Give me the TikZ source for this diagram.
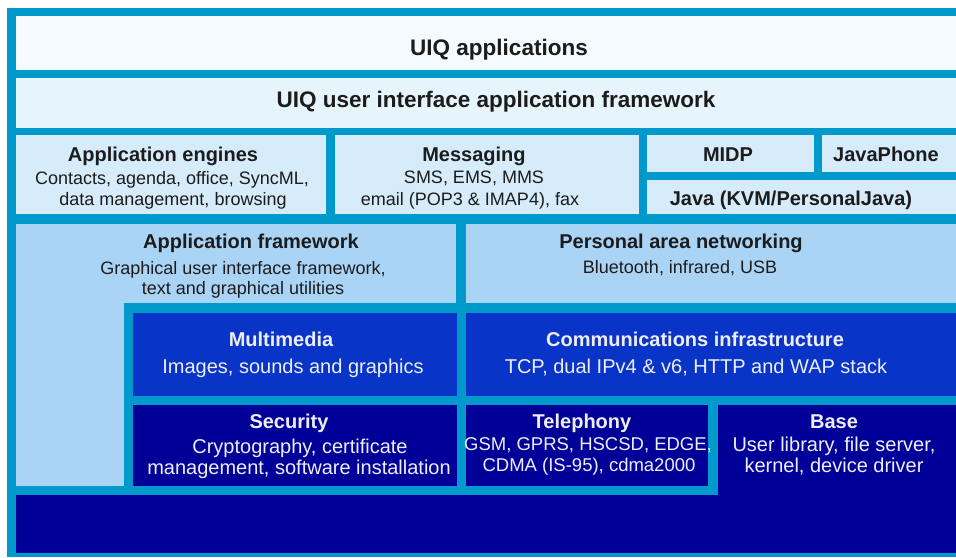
\documentclass[tikz,border=0pt]{standalone}
\usepackage{fontspec}
\setmainfont{Liberation Sans}
\definecolor{fr}{RGB}{0,153,204}
\definecolor{cA}{RGB}{244,250,253}
\definecolor{cB}{RGB}{230,244,252}
\definecolor{cC}{RGB}{214,236,251}
\definecolor{cD}{RGB}{170,212,245}
\definecolor{cE}{RGB}{8,52,200}
\definecolor{cF}{RGB}{0,0,153}
\definecolor{tdark}{RGB}{28,28,28}
\definecolor{tlight}{RGB}{238,238,248}
\begin{document}
\begin{tikzpicture}[x=1pt,y=-1pt,
  blk/.style={rectangle,draw=none,inner sep=0pt,outer sep=0pt,anchor=north west},
  hdr/.style={inner sep=0pt,anchor=center,text=tdark,text height=16.1pt,text depth=0pt,font=\fontsize{22.5}{26}\selectfont\bfseries},
  ttl/.style={inner sep=0pt,anchor=center,text=tdark,text height=14.3pt,text depth=0pt,font=\fontsize{20}{24}\selectfont\bfseries},
  bdy/.style={inner sep=0pt,anchor=center,text=tdark,text height=12.9pt,text depth=0pt,font=\fontsize{18}{22}\selectfont},
  bdyw/.style={inner sep=0pt,anchor=center,text=tlight,text height=14.3pt,text depth=0pt,font=\fontsize{20}{24}\selectfont},
  bdyt/.style={inner sep=0pt,anchor=center,text=tlight,text height=13.2pt,text depth=0pt,font=\fontsize{18.5}{22}\selectfont},
  lt/.style={text=tlight}]
\useasboundingbox (0,0) rectangle (956,557);
% frame
\node[blk,fill=fr,minimum width=949pt,minimum height=549pt] (frame) at (7,8) {};
% boxes
\node[blk,fill=cA,minimum width=940pt,minimum height=54pt] (apps) at (16,16) {};
\node[blk,fill=cB,minimum width=940pt,minimum height=50pt] (uifw) at (16,78) {};
\node[blk,fill=cC,minimum width=310pt,minimum height=79pt] (eng) at (16,135) {};
\node[blk,fill=cC,minimum width=304pt,minimum height=79pt] (msg) at (335,135) {};
\node[blk,fill=cC,minimum width=167pt,minimum height=37pt] (midp) at (647,135) {};
\node[blk,fill=cC,minimum width=134pt,minimum height=37pt] (jph) at (822,135) {};
\node[blk,fill=cC,minimum width=309pt,minimum height=34pt] (java) at (647,180) {};
\node[blk,fill=cD,minimum width=440pt,minimum height=79pt] (appfw) at (16,224) {};
\node[blk,fill=cD,minimum width=108pt,minimum height=186pt] (appfwleg) at (16,300) {};
\node[blk,fill=cD,minimum width=490pt,minimum height=79pt] (pan) at (466,224) {};
\node[blk,fill=cE,minimum width=324pt,minimum height=83pt] (mm) at (133,313) {};
\node[blk,fill=cE,minimum width=490pt,minimum height=83pt] (comm) at (466,313) {};
\node[blk,fill=cF,minimum width=324pt,minimum height=81pt] (sec) at (133,405) {};
\node[blk,fill=cF,minimum width=242pt,minimum height=81pt] (tel) at (466,405) {};
\node[blk,fill=cF,minimum width=238pt,minimum height=148pt] (base) at (718,405) {};
\node[blk,fill=cF,minimum width=940pt,minimum height=58pt] (bottom) at (16,495) {};
% texts
\node[hdr] (tapps) at (499,47) {UIQ applications};
\node[hdr] (tuifw) at (496,99) {UIQ user interface application framework};
\node[ttl] (teng) at (163,154) {Application engines};
\node[bdy] (teng1) at (172,178) {Contacts, agenda, office, SyncML,};
\node[bdy] (teng2) at (173,199) {data management, browsing};
\node[ttl] (tmsg) at (474,154) {Messaging};
\node[bdy] (tmsg1) at (474,177) {SMS, EMS, MMS};
\node[bdy] (tmsg2) at (470,199) {email (POP3 \& IMAP4), fax};
\node[ttl] (tmidp) at (728,154) {MIDP};
\node[ttl] (tjph) at (886,154) {JavaPhone};
\node[ttl] (tjava) at (791,198) {Java (KVM/PersonalJava)};
\node[ttl] (tappfw) at (251,241) {Application framework};
\node[bdy] (tappfw1) at (243,268) {Graphical user interface framework,};
\node[bdy] (tappfw2) at (243,288) {text and graphical utilities};
\node[ttl] (tpan) at (681,241) {Personal area networking};
\node[bdy] (tpan1) at (680,267) {Bluetooth, infrared, USB};
\node[ttl,lt] (tmm) at (281,339) {Multimedia};
\node[bdyw] (tmm1) at (293,366) {Images, sounds and graphics};
\node[ttl,lt] (tcomm) at (695,339) {Communications infrastructure};
\node[bdyw] (tcomm1) at (696,366) {TCP, dual IPv4 \& v6, HTTP and WAP stack};
\node[ttl,lt] (tsec) at (289,421) {Security};
\node[bdyw] (tsec1) at (300,446) {Cryptography, certificate};
\node[bdyw] (tsec2) at (299,467) {management, software installation};
\node[ttl,lt] (ttel) at (582,421) {Telephony};
\node[bdyt] (ttel1) at (588,444) {GSM, GPRS, HSCSD, EDGE,};
\node[bdyt] (ttel2) at (589,465) {CDMA (IS-95), cdma2000};
\node[ttl,lt] (tbase) at (834,421) {Base};
\node[bdyw] (tbase1) at (834,444) {User library, file server,};
\node[bdyw] (tbase2) at (834,465) {kernel, device driver};
\end{tikzpicture}
\end{document}
